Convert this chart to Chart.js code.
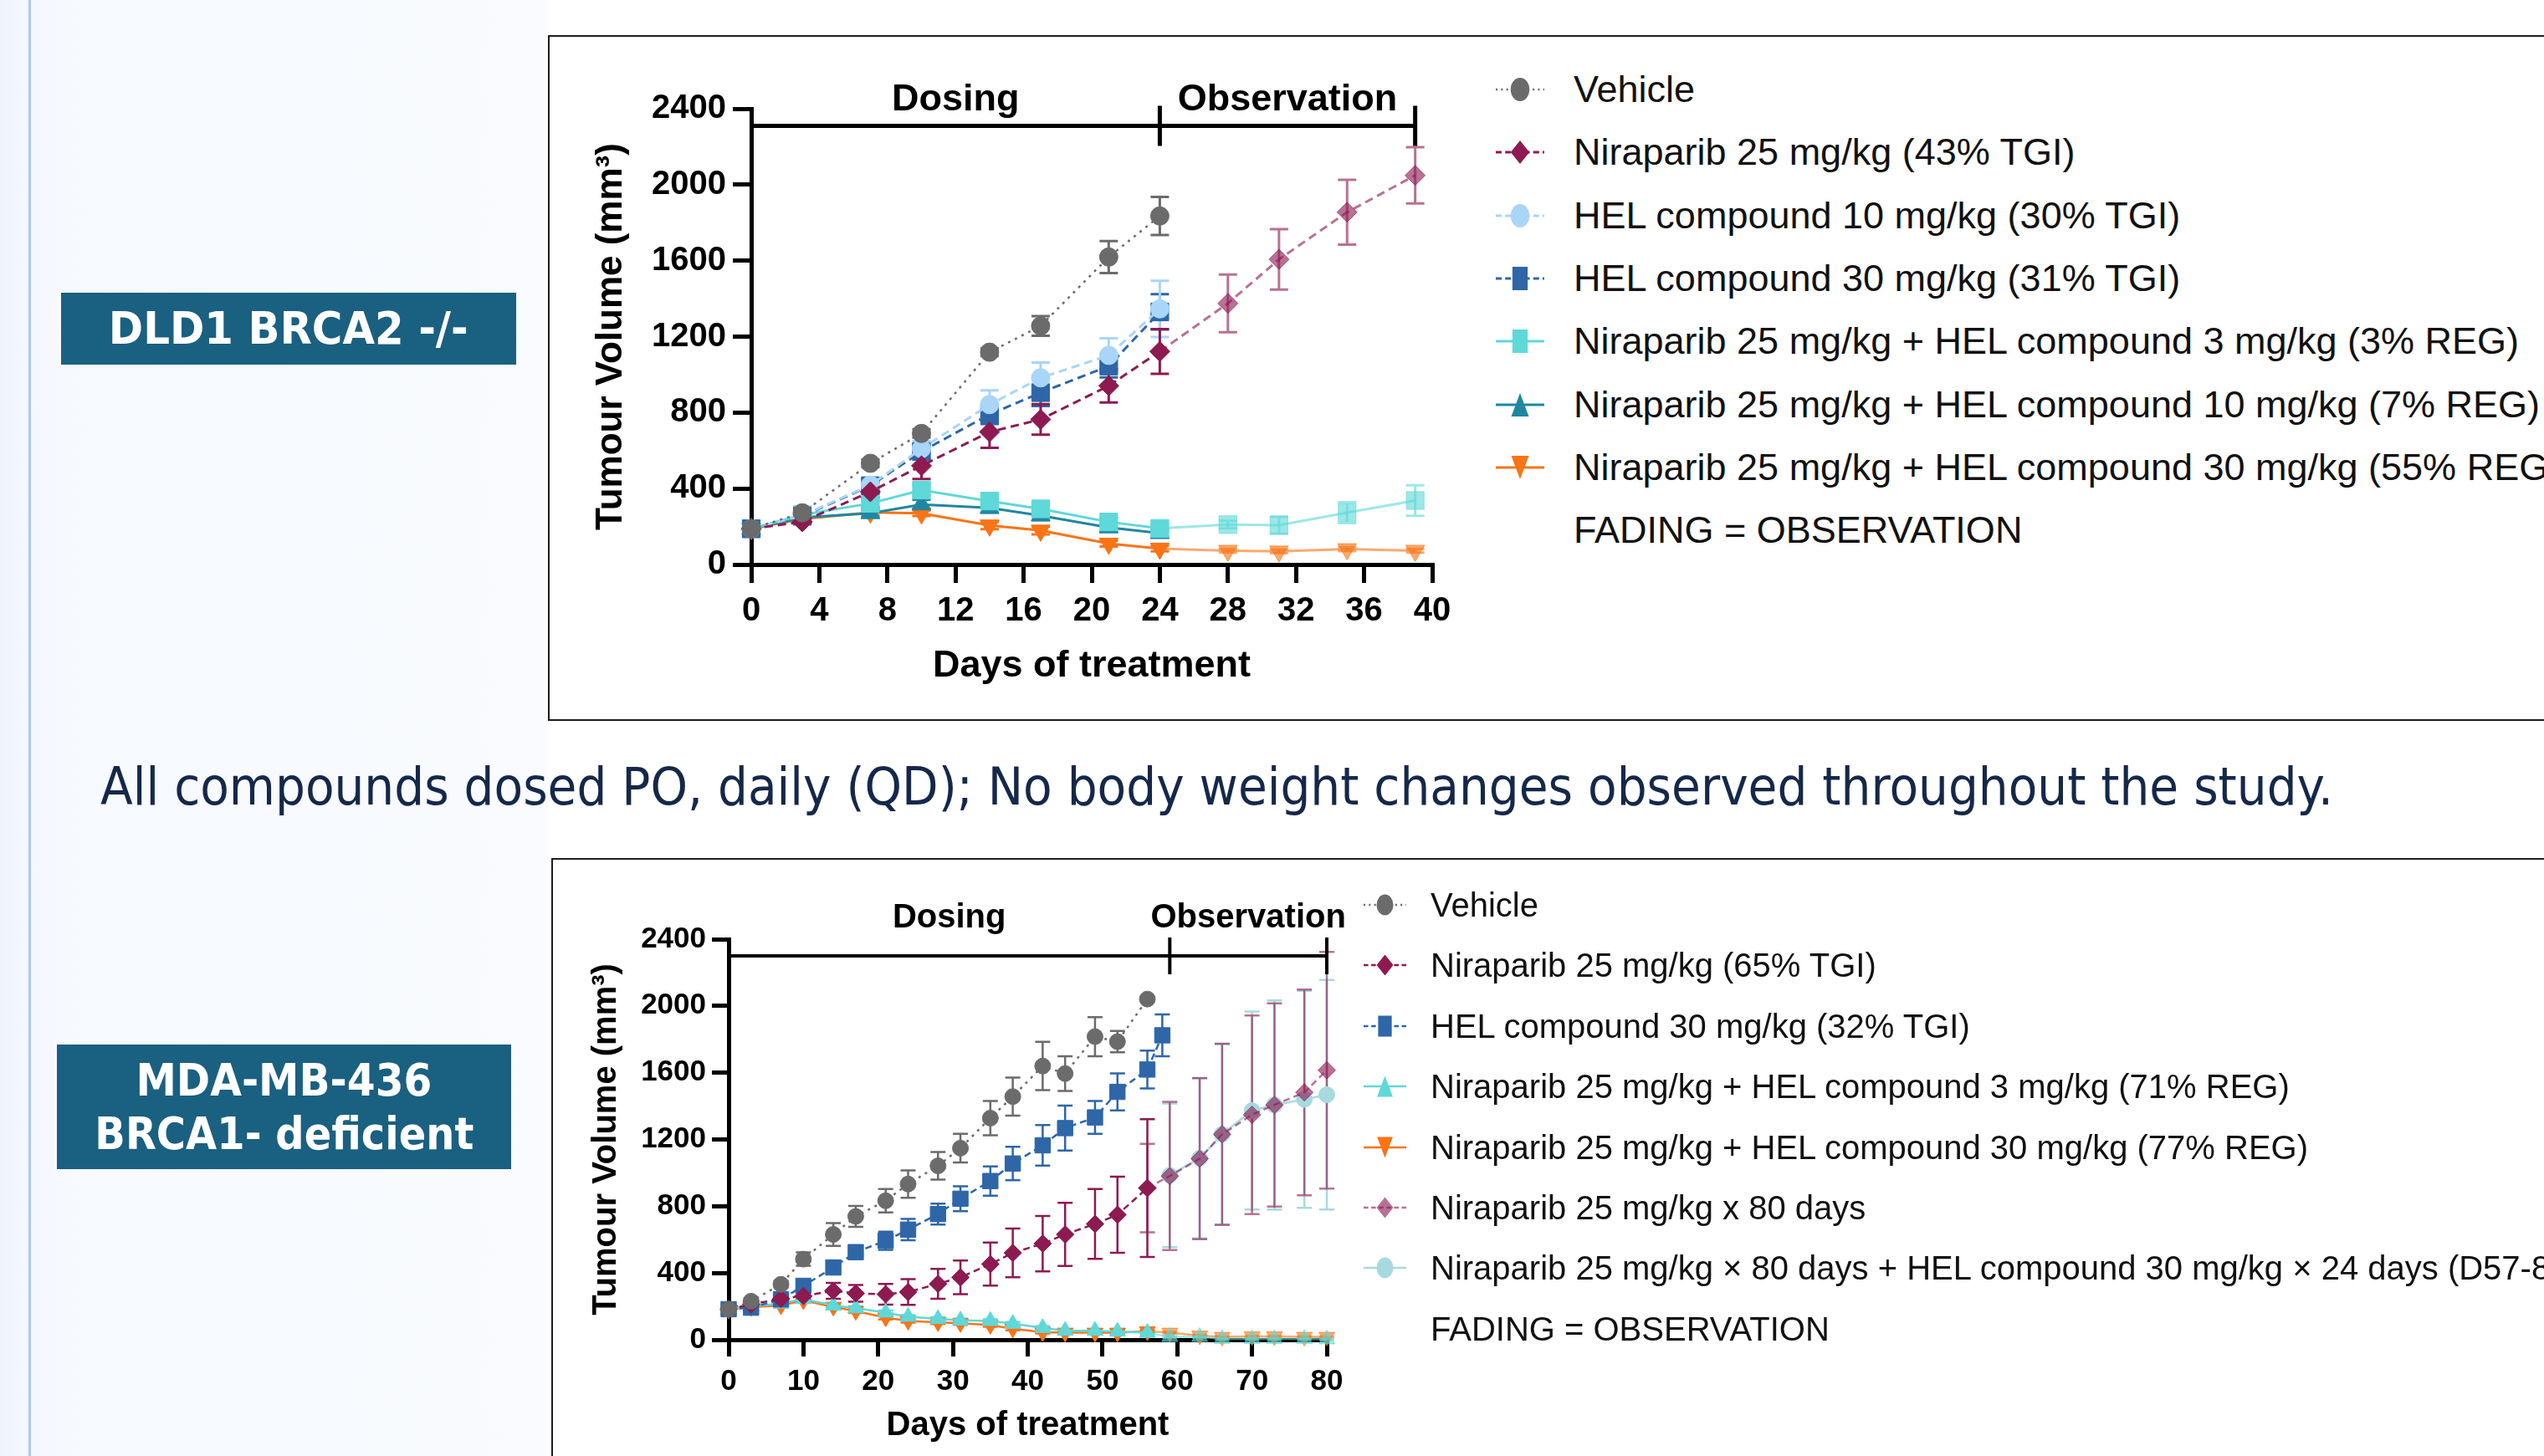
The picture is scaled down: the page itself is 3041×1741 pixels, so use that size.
<!DOCTYPE html>
<html>
<head>
<meta charset="utf-8">
<script src="https://cdn.jsdelivr.net/npm/chart.js@4.4.1/dist/chart.umd.min.js"></script>
<style>
  html, body { margin: 0; padding: 0; }
  body { width: 3041px; height: 1741px; overflow: hidden; position: relative; background: #fff;
         font-family: "Liberation Sans", Arial, sans-serif; }
  #side { position: absolute; left: 0; top: 0; width: 655px; height: 1741px;
          background: linear-gradient(to right, #edf4fc 0px, #f4f8fe 34px, #f6f9fe 80px, #f9fbfe 655px); }
  #side:after { content: ""; position: absolute; left: 34px; top: 0; width: 3px; height: 100%; background: #a9caee; }
  .panel { position: absolute; border: 2px solid #1c1c1c; background: #fff; }
  .tag { position: absolute; background: #1a6080; color: #fff; font-family: "DejaVu Sans", sans-serif;
         font-weight: bold; display: flex; flex-direction: column; align-items: center; justify-content: center; }
  .tag span { display: inline-block; white-space: nowrap; line-height: 1.18; }
  #note { position: absolute; left: 120px; top: 940px; transform-origin: left center; white-space: nowrap;
          font-family: "DejaVu Sans", sans-serif; font-size: 62px; color: #15284a; }
  canvas { position: absolute; }
  .lg { position: absolute; display: flex; align-items: center; white-space: nowrap; color: #111; }
  .lg svg { flex: none; }
</style>
</head>
<body>
<div id="side"></div>
<div class="panel" style="left:655px; top:42px; width:2400px; height:816px;"></div>
<div class="panel" style="left:659px; top:1026px; width:2400px; height:800px;"></div>

<div class="tag" style="left:73px; top:350px; width:544px; height:86px; font-size:54px;">
  <span data-w="430">DLD1 BRCA2 -/-</span>
</div>
<div class="tag" style="left:68px; top:1249px; width:543px; height:149px; font-size:54px;">
  <span data-w="354">MDA-MB-436</span>
  <span data-w="453">BRCA1- deficient</span>
</div>

<span id="note" data-w="2669">All compounds dosed PO, daily (QD); No body weight changes observed throughout the study.</span>

<canvas id="dld" width="1080" height="800" style="left:680px; top:40px;"></canvas>
<canvas id="mda" width="960" height="711" style="left:680px; top:1030px;"></canvas>
<div id="dldLegend"></div>
<div id="mdaLegend"></div>

<script>
// ---------- DLD1 BRCA2 -/- ----------
const dldDays = [0, 3, 7, 10, 14, 17, 21, 24, 28, 31, 35, 39];
const dldXTicks = [0, 4, 8, 12, 16, 20, 24, 28, 32, 36, 40];

const dldVehicle = [188, 272, 533, 690, 1118, 1256, 1619, 1835];
const dldVehicleSem = [6, 14, 20, 22, 20, 52, 84, 100];
const dldNira = [188, 225, 383, 520, 698, 764, 941, 1122, 1375, 1607, 1855, 2049];
const dldNiraSem = [6, 12, 30, 70, 84, 80, 88, 118, 152, 159, 171, 148];
const dldHel10 = [188, 258, 418, 610, 842, 983, 1101, 1346];
const dldHel10Sem = [6, 12, 30, 40, 75, 80, 90, 148];
const dldHel30 = [188, 255, 415, 595, 790, 905, 1045, 1330];
const dldHel30Sem = [6, 12, 40, 40, 50, 70, 60, 93];
const dldNiraHel3 = [188, 262, 322, 392, 334, 293, 224, 190, 210, 207, 273, 337];
const dldNiraHel3Sem = [6, 10, 20, 30, 25, 25, 20, 20, 20, 45, 55, 80];
const dldNiraHel10 = [188, 248, 270, 316, 298, 258, 195, 165];
const dldNiraHel10Sem = [6, 10, 20, 25, 25, 25, 20, 20];
const dldNiraHel30 = [188, 240, 274, 270, 206, 179, 110, 84, 73, 69, 81, 73];
const dldNiraHel30Sem = [6, 10, 15, 15, 20, 20, 15, 15, 10, 10, 10, 10];

const dldNames = [
  "Vehicle",
  "Niraparib 25 mg/kg (43% TGI)",
  "HEL compound 10 mg/kg (30% TGI)",
  "HEL compound 30 mg/kg (31% TGI)",
  "Niraparib 25 mg/kg + HEL compound 3 mg/kg (3% REG)",
  "Niraparib 25 mg/kg + HEL compound 10 mg/kg (7% REG)",
  "Niraparib 25 mg/kg + HEL compound 30 mg/kg (55% REG)",
];

// ---------- MDA-MB-436 BRCA1- deficient ----------
const mdaDays = [0, 3, 7, 10, 14, 17, 21, 24, 28, 31, 35, 38, 42, 45, 49, 52, 56, 59, 63, 66, 70, 73, 77, 80];
const mdaHel30Days = [0, 3, 7, 10, 14, 17, 21, 24, 28, 31, 35, 38, 42, 45, 49, 52, 56, 58];
const mdaLateDays = [56, 59, 63, 66, 70, 73, 77, 80];
const mdaComboDays = [59, 63, 66, 70, 73, 77, 80];
const mdaXTicks = [0, 10, 20, 30, 40, 50, 60, 70, 80];

const mdaVehicle = [183, 231, 332, 483, 631, 739, 833, 933, 1042, 1148, 1328, 1457, 1640, 1595, 1816, 1786, 2041];
const mdaVehicleSem = [6, 12, 20, 40, 68, 63, 70, 82, 83, 86, 103, 114, 145, 104, 117, 64, 0];
const mdaNira = [183, 212, 245, 262, 293, 278, 273, 286, 335, 374, 453, 520, 576, 631, 694, 749, 909];
const mdaNiraSem = [6, 10, 15, 20, 48, 50, 62, 77, 90, 101, 129, 146, 166, 189, 209, 228, 413];
const mdaHel30 = [183, 192, 242, 323, 433, 525, 593, 660, 753, 845, 951, 1056, 1165, 1268, 1332, 1485, 1619, 1824];
const mdaHel30Sem = [6, 10, 15, 25, 30, 40, 55, 64, 63, 75, 88, 100, 121, 135, 98, 111, 113, 125];
const mdaNiraHel3 = [181, 200, 217, 244, 205, 189, 163, 138, 125, 116, 113, 96, 71, 54, 54, 49, 42, 17, 17, 5, 5, 5, 5, 3];
const mdaNiraHel3Sem = [5, 8, 10, 12, 12, 12, 12, 10, 10, 10, 10, 10, 10, 8, 8, 8, 8, 5, 5, 3, 3, 3, 3, 3];
const mdaNiraHel30 = [181, 195, 205, 235, 197, 172, 133, 113, 104, 99, 88, 66, 45, 42, 42, 42, 50, 42, 25, 17, 20, 20, 17, 17];
const mdaNiraHel30Sem = [5, 8, 10, 12, 12, 12, 12, 10, 10, 10, 10, 10, 8, 8, 8, 8, 8, 5, 5, 3, 3, 3, 3, 3];
const mdaNira80 = [909, 981, 1085, 1231, 1348, 1407, 1482, 1615];
const mdaNira80Sem = [265, 444, 482, 543, 595, 609, 616, 709];
const mdaCombo = [985, 1088, 1231, 1373, 1407, 1440, 1468];
const mdaComboSem = [430, 480, 540, 593, 626, 650, 688];

const mdaNames = [
  "Vehicle",
  "Niraparib 25 mg/kg (65% TGI)",
  "HEL compound 30 mg/kg (32% TGI)",
  "Niraparib 25 mg/kg + HEL compound 3 mg/kg (71% REG)",
  "Niraparib 25 mg/kg + HEL compound 30 mg/kg (77% REG)",
  "Niraparib 25 mg/kg x 80 days",
  "Niraparib 25 mg/kg × 80 days + HEL compound 30 mg/kg × 24 days (D57-80)",
];

const yTicks = [0, 400, 800, 1200, 1600, 2000, 2400];
const fadingNote = "FADING = OBSERVATION";

// ---------- styles ----------
const FONT = '"Liberation Sans", Arial, sans-serif';
const GREY = "#6b6b6b", MAROON = "#8d1a50", SKY = "#a9d5f8", BLUE = "#2e66a8",
      CYAN = "#5fd8d9", TEAL = "#1f87a1", ORANGE = "#f97415", PALE = "#a6dadf";

function fade(hex, a = 0.62) {
  const n = parseInt(hex.slice(1), 16);
  return `rgba(${n >> 16},${(n >> 8) & 255},${n & 255},${a})`;
}

const points = (days, vals) => vals.map((v, i) => ({ x: days[i], y: v }));

function makeSet(label, days, vals, sem, look, fadeAfter) {
  const col = (x) => (x > fadeAfter ? fade(look.color) : look.color);
  return {
    label, data: points(days, vals), sem, look, fadeAfter, colorAt: col,
    borderColor: look.color, borderWidth: look.width, borderDash: look.dash,
    segment: { borderColor: (c) => col(c.p1.parsed.x) },
    pointStyle: look.style, pointRotation: look.rot || 0, pointRadius: look.r,
    pointBackgroundColor: (c) => col(c.raw ? c.raw.x : 0),
    pointBorderColor: (c) => col(c.raw ? c.raw.x : 0),
    pointBorderWidth: 1, tension: 0, fill: false, clip: false,
  };
}

// error bars drawn through the chart's own y scale (last dataset first, like the markers)
const errorBars = {
  id: "errorBars",
  beforeDatasetsDraw(chart, args, opts) {
    const { ctx } = chart, ys = chart.scales.y;
    const sets = chart.data.datasets;
    for (let i = sets.length - 1; i >= 0; i--) {
      const ds = sets[i], meta = chart.getDatasetMeta(i);
      ctx.save();
      ctx.lineWidth = opts.width;
      meta.data.forEach((pt, j) => {
        const e = ds.sem[j];
        if (!e) return;
        const v = ds.data[j].y, t = ys.getPixelForValue(v + e), b = ys.getPixelForValue(v - e);
        ctx.strokeStyle = ds.colorAt(ds.data[j].x);
        ctx.beginPath();
        ctx.moveTo(pt.x, t); ctx.lineTo(pt.x, b);
        ctx.moveTo(pt.x - opts.cap / 2, t); ctx.lineTo(pt.x + opts.cap / 2, t);
        ctx.moveTo(pt.x - opts.cap / 2, b); ctx.lineTo(pt.x + opts.cap / 2, b);
        ctx.stroke();
      });
      ctx.restore();
    }
  },
};

// Dosing / Observation bracket above the plot
const dosingBar = {
  id: "dosingBar",
  afterDraw(chart, args, o) {
    const { ctx } = chart, xs = chart.scales.x, ys = chart.scales.y;
    const y = ys.getPixelForValue(o.level);
    const x0 = xs.getPixelForValue(0), x1 = xs.getPixelForValue(o.end), x2 = xs.getPixelForValue(o.last);
    ctx.save();
    ctx.strokeStyle = "#000";
    ctx.lineWidth = o.width;
    ctx.beginPath();
    ctx.moveTo(x0, y); ctx.lineTo(x2, y);
    ctx.moveTo(x1, y - o.half); ctx.lineTo(x1, y + o.half);
    ctx.moveTo(x2, y - o.half); ctx.lineTo(x2, y + o.half);
    ctx.stroke();
    ctx.fillStyle = "#000";
    ctx.font = `bold ${o.size}px ${FONT}`;
    ctx.textAlign = "center";
    ctx.textBaseline = "middle";
    ctx.fillText("Dosing", (x0 + x1) / 2, y - o.gap);
    ctx.fillText("Observation", (x1 + x2) / 2, y - o.gap);
    ctx.restore();
  },
};

function axisOptions(c) {
  const tickFont = { family: FONT, size: c.tick, weight: "bold" };
  const titleFont = { family: FONT, size: c.title, weight: "bold" };
  const grid = { display: true, drawOnChartArea: false, drawTicks: true, tickLength: c.tickLen,
                 lineWidth: c.axisW, tickWidth: c.axisW, tickColor: "#000", color: "#000" };
  return {
    x: {
      type: "linear", min: c.xTicks[0], max: c.xTicks[c.xTicks.length - 1],
      afterBuildTicks: (s) => { s.ticks = c.xTicks.map((v) => ({ value: v })); },
      afterFit: (s) => { s.height = c.xH; },
      grid, border: { display: true, width: c.axisW, color: "#000" },
      ticks: { color: "#000", font: tickFont, padding: c.xPad, maxRotation: 0, autoSkip: false,
               callback: (v) => String(v) },
      title: { display: true, text: "Days of treatment", color: "#000", font: { family: FONT, size: c.xTitle, weight: "bold" },
               padding: { top: 0, bottom: c.xTitlePad } },
    },
    y: {
      min: 0, max: 2400,
      afterBuildTicks: (s) => { s.ticks = yTicks.map((v) => ({ value: v })); },
      afterFit: (s) => { s.width = c.yW; },
      grid, border: { display: true, width: c.axisW, color: "#000" },
      ticks: { color: "#000", font: tickFont, padding: c.yPad, callback: (v) => String(v) },
      title: { display: true, text: "Tumour Volume (mm³)", color: "#000", font: titleFont,
               padding: { top: c.yTitlePad, bottom: 0 } },
    },
  };
}

function makeChart(id, datasets, c) {
  return new Chart(document.getElementById(id), {
    type: "line",
    data: { datasets },
    plugins: [errorBars, dosingBar],
    options: {
      responsive: false, animation: false, devicePixelRatio: 1,
      layout: { padding: { top: c.padTop, right: c.padRight, left: 0, bottom: 0 } },
      scales: axisOptions(c),
      plugins: {
        legend: { display: false }, tooltip: { enabled: false },
        errorBars: { width: c.errW, cap: c.cap },
        dosingBar: c.bar,
      },
    },
  });
}

// ---------- top chart ----------
const dldSets = [
  makeSet(dldNames[0], dldDays, dldVehicle, dldVehicleSem, { color: GREY, style: "circle", r: 11, width: 2.5, dash: [3, 6] }, 24),
  makeSet(dldNames[1], dldDays, dldNira, dldNiraSem, { color: MAROON, style: "rectRot", r: 12, width: 3, dash: [10, 6] }, 24),
  makeSet(dldNames[2], dldDays, dldHel10, dldHel10Sem, { color: SKY, style: "circle", r: 11, width: 3, dash: [10, 6] }, 24),
  makeSet(dldNames[3], dldDays, dldHel30, dldHel30Sem, { color: BLUE, style: "rect", r: 15, width: 3, dash: [10, 6] }, 24),
  makeSet(dldNames[4], dldDays, dldNiraHel3, dldNiraHel3Sem, { color: CYAN, style: "rect", r: 15, width: 3, dash: [] }, 24),
  makeSet(dldNames[5], dldDays, dldNiraHel10, dldNiraHel10Sem, { color: TEAL, style: "triangle", r: 13, width: 3, dash: [] }, 24),
  makeSet(dldNames[6], dldDays, dldNiraHel30, dldNiraHel30Sem, { color: ORANGE, style: "triangle", rot: 180, r: 13, width: 3, dash: [] }, 24),
];
makeChart("dld", dldSets, {
  xTicks: dldXTicks, tick: 40, title: 44, xTitle: 45, tickLen: 22, axisW: 5,
  xH: 165, yW: 218, xPad: 10, yPad: 8, xTitlePad: 16, yTitlePad: 24,
  padTop: 90, padRight: 48, errW: 3, cap: 22,
  bar: { level: 2310, end: 24, last: 39, width: 5, half: 24, gap: 31, size: 45 },
});

// ---------- bottom chart ----------
const mdaSets = [
  makeSet(mdaNames[0], mdaDays, mdaVehicle, mdaVehicleSem, { color: GREY, style: "circle", r: 9.5, width: 2.5, dash: [3, 6] }, 56),
  makeSet(mdaNames[1], mdaDays, mdaNira, mdaNiraSem, { color: MAROON, style: "rectRot", r: 10.5, width: 2.5, dash: [8, 5] }, 56),
  makeSet(mdaNames[2], mdaHel30Days, mdaHel30, mdaHel30Sem, { color: BLUE, style: "rect", r: 13, width: 2.5, dash: [8, 5] }, 80),
  makeSet(mdaNames[3], mdaDays, mdaNiraHel3, mdaNiraHel3Sem, { color: CYAN, style: "triangle", r: 11, width: 2.5, dash: [] }, 56),
  makeSet(mdaNames[4], mdaDays, mdaNiraHel30, mdaNiraHel30Sem, { color: ORANGE, style: "triangle", rot: 180, r: 11, width: 2.5, dash: [] }, 56),
  makeSet(mdaNames[5], mdaLateDays, mdaNira80, mdaNira80Sem, { color: MAROON, style: "rectRot", r: 10.5, width: 2.5, dash: [8, 5] }, -1),
  makeSet(mdaNames[6], mdaComboDays, mdaCombo, mdaComboSem, { color: PALE, style: "circle", r: 9.5, width: 2.5, dash: [] }, 100),
];
makeChart("mda", mdaSets, {
  xTicks: mdaXTicks, tick: 35, title: 40, xTitle: 40, tickLen: 20, axisW: 5,
  xH: 139, yW: 191, xPad: 9, yPad: 7, xTitlePad: 12, yTitlePad: 21,
  padTop: 93, padRight: 54, errW: 2.5, cap: 18,
  bar: { level: 2300, end: 59, last: 80, width: 4, half: 22, gap: 45, size: 40 },
});

// ---------- legends (HTML, built from the datasets) ----------
function sampleSvg(ds, w, s) {
  const lk = ds.look, col = ds.fadeAfter < 0 ? fade(lk.color) : lk.color;
  const h = s + 8, cy = h / 2, cx = w / 2, r = s / 2;
  const dash = lk.dash.length ? `stroke-dasharray="${lk.dash.map((d) => d * 0.7).join(" ")}"` : "";
  let shape;
  if (lk.style === "circle") shape = `<ellipse cx="${cx}" cy="${cy}" rx="${r * 0.8}" ry="${r}"/>`;
  else if (lk.style === "rect") shape = `<rect x="${cx - r * 0.65}" y="${cy - r}" width="${r * 1.3}" height="${s}"/>`;
  else if (lk.style === "rectRot") shape = `<polygon points="${cx},${cy - r} ${cx + r * 0.8},${cy} ${cx},${cy + r} ${cx - r * 0.8},${cy}"/>`;
  else if (lk.rot) shape = `<polygon points="${cx - r * 0.75},${cy - r} ${cx + r * 0.75},${cy - r} ${cx},${cy + r}"/>`;
  else shape = `<polygon points="${cx - r * 0.75},${cy + r} ${cx + r * 0.75},${cy + r} ${cx},${cy - r}"/>`;
  return `<svg width="${w}" height="${h}"><line x1="0" x2="${w}" y1="${cy}" y2="${cy}" stroke="${col}" stroke-width="${lk.width}" ${dash}/>` +
         `<g fill="${col}">${shape}</g></svg>`;
}

function buildLegend(id, sets, c) {
  const box = document.getElementById(id);
  const rows = sets.map((ds) => ({ svg: sampleSvg(ds, c.sw, c.ms), text: ds.label }));
  rows.push({ svg: `<svg width="${c.sw}" height="2"></svg>`, text: fadingNote });
  rows.forEach((r, i) => {
    const row = document.createElement("div");
    row.className = "lg";
    row.style.left = c.left + "px";
    row.style.top = (c.top + i * c.gap) + "px";
    row.style.transform = "translateY(-50%)";
    row.style.fontSize = c.size + "px";
    row.innerHTML = r.svg + `<span style="margin-left:${c.textLeft - c.left - c.sw}px">${r.text}</span>`;
    box.appendChild(row);
  });
}
buildLegend("dldLegend", dldSets, { left: 1788, textLeft: 1881, top: 107, gap: 75.3, sw: 58, ms: 28, size: 45 });
buildLegend("mdaLegend", mdaSets, { left: 1630, textLeft: 1710, top: 1082, gap: 72.4, sw: 51, ms: 25, size: 40 });

// squeeze the slide's text blocks to the widths they take on the slide
function fitText() {
  document.querySelectorAll("[data-w]").forEach((el) => {
    el.style.transform = "";
    const w = el.getBoundingClientRect().width;
    const k = +el.dataset.w / w;
    if (el.id === "note") el.style.transform = `translateY(-50%) scaleX(${k})`;
    else el.style.transform = `scaleX(${k})`;
  });
}
fitText();
if (document.fonts) document.fonts.ready.then(fitText);
</script>
</body>
</html>
